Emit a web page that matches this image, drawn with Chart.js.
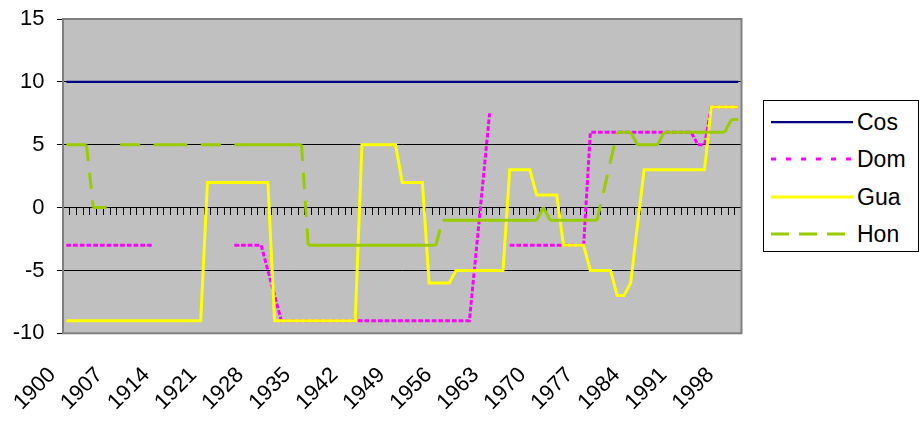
<!DOCTYPE html>
<html lang="en">
<head>
    <meta charset="UTF-8">
    <title>Cos Dom Gua Hon</title>
    <style>
        body {
            margin: 0;
            background: #ffffff;
            font-family: Arial, "Liberation Sans", sans-serif;
        }

        #wrap {
            position: relative;
            width: 920px;
            height: 421px;
        }

        #legend {
            position: absolute;
            left: 763px;
            top: 100px;
            width: 154px;
            height: 150px;
            border: 1px solid #000;
            background: #fff;
        }

        .item {
            position: absolute;
            left: 0;
            height: 22px;
        }

        .item svg {
            position: absolute;
            left: 7px;
            top: 8px;
        }

        .item span {
            position: absolute;
            left: 93px;
            top: 0;
            font-size: 23px;
            line-height: 22px;
            color: #000;
            white-space: nowrap;
        }
    </style>
    <script src="https://cdn.jsdelivr.net/npm/chart.js"></script>
</head>
<body>
    <div id="wrap">
        <canvas id="polityChart" width="920" height="421"></canvas>
        <div id="legend"></div>
    </div>

    <script>
        // categories (years)
        const years = [
            1900, 1901, 1902, 1903, 1904, 1905, 1906, 1907, 1908, 1909,
            1910, 1911, 1912, 1913, 1914, 1915, 1916, 1917, 1918, 1919,
            1920, 1921, 1922, 1923, 1924, 1925, 1926, 1927, 1928, 1929,
            1930, 1931, 1932, 1933, 1934, 1935, 1936, 1937, 1938, 1939,
            1940, 1941, 1942, 1943, 1944, 1945, 1946, 1947, 1948, 1949,
            1950, 1951, 1952, 1953, 1954, 1955, 1956, 1957, 1958, 1959,
            1960, 1961, 1962, 1963, 1964, 1965, 1966, 1967, 1968, 1969,
            1970, 1971, 1972, 1973, 1974, 1975, 1976, 1977, 1978, 1979,
            1980, 1981, 1982, 1983, 1984, 1985, 1986, 1987, 1988, 1989,
            1990, 1991, 1992, 1993, 1994, 1995, 1996, 1997, 1998, 1999,
            2000
        ];

        // year labels shown under the axis
        const shownYears = [1900, 1907, 1914, 1921, 1928, 1935, 1942, 1949, 1956, 1963, 1970, 1977, 1984, 1991, 1998];

        const yTicks = [-10, -5, 0, 5, 10, 15];

        const cos = [
            10, 10, 10, 10, 10, 10, 10, 10, 10, 10,
            10, 10, 10, 10, 10, 10, 10, 10, 10, 10,
            10, 10, 10, 10, 10, 10, 10, 10, 10, 10,
            10, 10, 10, 10, 10, 10, 10, 10, 10, 10,
            10, 10, 10, 10, 10, 10, 10, 10, 10, 10,
            10, 10, 10, 10, 10, 10, 10, 10, 10, 10,
            10, 10, 10, 10, 10, 10, 10, 10, 10, 10,
            10, 10, 10, 10, 10, 10, 10, 10, 10, 10,
            10, 10, 10, 10, 10, 10, 10, 10, 10, 10,
            10, 10, 10, 10, 10, 10, 10, 10, 10, 10,
            10
        ];

        const dom = [
            -3, -3, -3, -3, -3, -3, -3, -3, -3, -3,
            -3, -3, -3, -3, null, null, null, null, null, null,
            null, null, null, null, null, -3, -3, -3, -3, -3,
            -5, -7, -9, -9, -9, -9, -9, -9, -9, -9,
            -9, -9, -9, -9, -9, -9, -9, -9, -9, -9,
            -9, -9, -9, -9, -9, -9, -9, -9, -9, -9,
            -9, -3.5, 2, 7.5, null, null, -3, -3, -3, -3,
            -3, -3, -3, -3, -3, -3, -3, -3, 6, 6,
            6, 6, 6, 6, 6, 6, 6, 6, 6, 6,
            6, 6, 6, 6, 5, 5, 8, 8, 8, 8,
            8
        ];

        const gua = [
            -9, -9, -9, -9, -9, -9, -9, -9, -9, -9,
            -9, -9, -9, -9, -9, -9, -9, -9, -9, -9,
            -9, 2, 2, 2, 2, 2, 2, 2, 2, 2,
            2, -9, -9, -9, -9, -9, -9, -9, -9, -9,
            -9, -9, -9, -9, 5, 5, 5, 5, 5, 5,
            2, 2, 2, 2, -6, -6, -6, -6, -5, -5,
            -5, -5, -5, -5, -5, -5, 3, 3, 3, 3,
            1, 1, 1, 1, -3, -3, -3, -3, -5, -5,
            -5, -5, -7, -7, -6, -1.5, 3, 3, 3, 3,
            3, 3, 3, 3, 3, 3, 8, 8, 8, 8,
            8
        ];

        const hon = [
            5, 5, 5, 5, 0, 0, 0, null, 5, 5,
            5, 5, null, 5, 5, 5, 5, 5, 5, null,
            5, 5, 5, 5, null, 5, 5, 5, 5, 5,
            5, 5, 5, 5, 5, 5, -3, -3, -3, -3,
            -3, -3, -3, -3, -3, -3, -3, -3, -3, -3,
            -3, -3, -3, -3, -3, -3, -1, -1, -1, -1,
            -1, -1, -1, -1, -1, -1, -1, -1, -1, -1,
            -1, 0, -1, -1, -1, -1, -1, -1, -1, -1,
            1.33, 3.67, 6, 6, 6, 5, 5, 5, 5, 6,
            6, 6, 6, 6, 6, 6, 6, 6, 6, 7,
            7
        ];

        const seriesNames = ['Cos', 'Dom', 'Gua', 'Hon'];
        const seriesColors = ['#000080', '#ff00ff', '#ffff00', '#99cc00'];

        // grey plot area with a darker frame, like the spreadsheet chart
        const plotFrame = {
            id: 'plotFrame',
            beforeDraw(chart) {
                const { ctx, chartArea: a } = chart;
                ctx.save();
                ctx.fillStyle = '#c0c0c0';
                ctx.fillRect(a.left, a.top, a.right - a.left, a.bottom - a.top);
                ctx.restore();
            },
            afterDraw(chart) {
                const { ctx, chartArea: a } = chart;
                ctx.save();
                ctx.strokeStyle = '#808080';
                ctx.lineWidth = 2;
                ctx.strokeRect(a.left, a.top, a.right - a.left, a.bottom - a.top);
                ctx.restore();
            }
        };

        const flat = (c) => c.p0.parsed.y === c.p1.parsed.y;

        function createChart() {
            Chart.defaults.font.family = 'Arial, "Liberation Sans", sans-serif';
            Chart.defaults.font.size = 22;
            Chart.defaults.color = '#000';

            const ctx = document.getElementById('polityChart').getContext('2d');
            new Chart(ctx, {
                type: 'line',
                data: {
                    labels: years,
                    datasets: [
                        {
                            label: seriesNames[0],
                            data: cos,
                            borderColor: seriesColors[0],
                            borderWidth: 2.25,
                            order: 4
                        },
                        {
                            label: seriesNames[1],
                            data: dom,
                            borderColor: seriesColors[1],
                            borderWidth: 3,
                            borderDash: [4.7, 2.02],
                            order: 3
                        },
                        {
                            label: seriesNames[2],
                            data: gua,
                            borderColor: seriesColors[2],
                            borderWidth: 3,
                            order: 2
                        },
                        {
                            label: seriesNames[3],
                            data: hon,
                            borderColor: seriesColors[3],
                            borderWidth: 3,
                            borderDash: [16.5, 11.5],
                            // flat runs look solid, steps show the long dash
                            segment: {
                                borderDash: (c) => flat(c) ? [] : undefined,
                                borderDashOffset: (c) => flat(c) ? undefined : c.p0DataIndex * 0.001
                            },
                            order: 1
                        }
                    ]
                },
                options: {
                    responsive: true,
                    maintainAspectRatio: false,
                    animation: false,
                    layout: {
                        padding: { left: 0, top: 19, right: 178.5, bottom: 0 }
                    },
                    elements: {
                        point: { radius: 0, hoverRadius: 0 },
                        line: { tension: 0, fill: false, borderCapStyle: 'butt' }
                    },
                    plugins: {
                        legend: { display: false },
                        tooltip: { enabled: false }
                    },
                    scales: {
                        x: {
                            type: 'category',
                            offset: true,
                            grid: { display: false },
                            border: { display: false },
                            ticks: {
                                autoSkip: false,
                                minRotation: 45,
                                maxRotation: 45,
                                padding: 21,
                                labelOffset: -14,
                                callback: function (value, index) {
                                    const yr = years[index];
                                    return shownYears.includes(yr) ? String(yr) : null;
                                }
                            },
                            afterFit: (scale) => { scale.height = 87.7; }
                        },
                        // axis line with tick marks running along zero
                        x0: {
                            type: 'category',
                            axis: 'x',
                            position: { y: 0 },
                            offset: true,
                            grid: {
                                drawOnChartArea: false,
                                drawTicks: true,
                                tickLength: 7,
                                color: '#000',
                                offset: true
                            },
                            border: { display: true, color: '#000', width: 1 },
                            ticks: { display: false, autoSkip: false }
                        },
                        y: {
                            min: -10,
                            max: 15,
                            afterBuildTicks: (scale) => {
                                scale.ticks = yTicks.map(v => ({ value: v }));
                            },
                            grid: {
                                color: '#000',
                                lineWidth: 1,
                                drawTicks: true,
                                tickLength: 6
                            },
                            border: { display: false },
                            ticks: { padding: 12.5 },
                            afterFit: (scale) => {
                                scale.width = 63;
                                // the end labels may overhang the plot top and bottom
                                scale.paddingTop = 0;
                                scale.paddingBottom = 0;
                            }
                        }
                    }
                },
                plugins: [plotFrame]
            });
        }

        function buildLegend() {
            const box = document.getElementById('legend');
            const rows = [20.7, 58, 96, 133.3];
            const widths = [2.25, 3, 3, 3];
            const dashes = ['', '5 10', '', '18 10'];
            seriesNames.forEach((name, i) => {
                const item = document.createElement('div');
                item.className = 'item';
                item.style.top = (rows[i] - 11) + 'px';
                item.innerHTML =
                    '<svg width="82" height="6"><line x1="0" y1="3" x2="82" y2="3" stroke="' + seriesColors[i] +
                    '" stroke-width="' + widths[i] + '"' + (dashes[i] ? ' stroke-dasharray="' + dashes[i] + '"' : '') +
                    '/></svg><span>' + name + '</span>';
                box.appendChild(item);
            });
        }

        window.onload = function () {
            createChart();
            buildLegend();
        };
    </script>
</body>
</html>
